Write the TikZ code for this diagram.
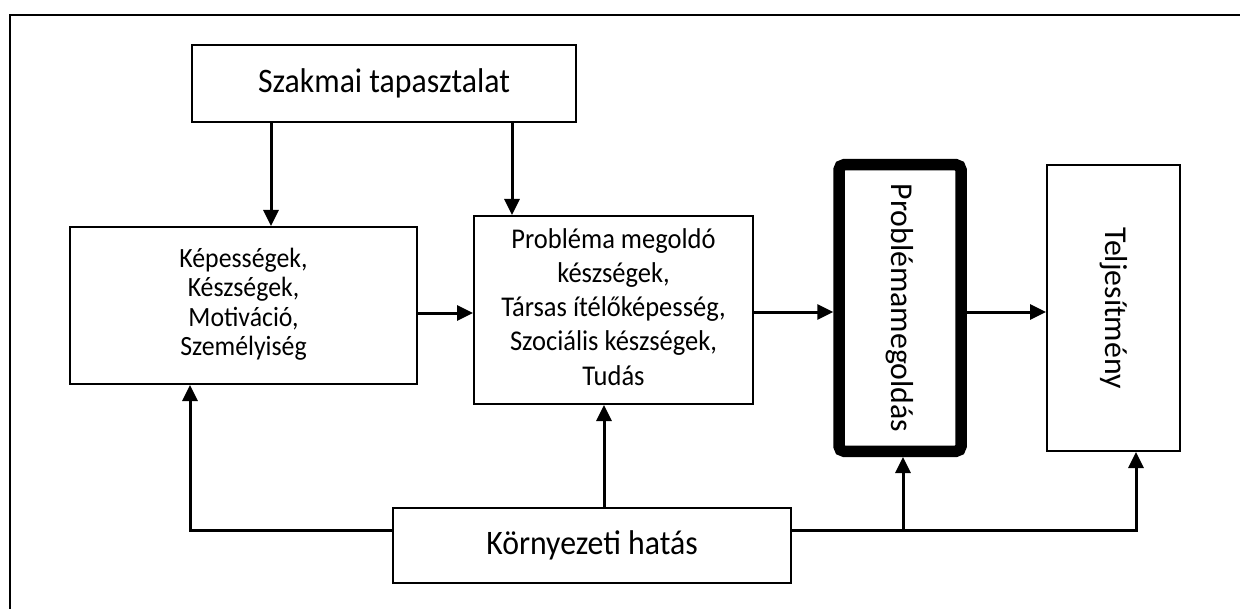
\documentclass[tikz,border=0pt]{standalone}
\usepackage{fontspec}
\setmainfont{Carlito}
\usetikzlibrary{arrows.meta}
\newcommand{\vstr}[1]{\scalebox{1}[1.08]{#1}}
\newcommand{\vlines}[1]{\vstr{\begin{tabular}{@{}c@{}}#1\end{tabular}}}
\tikzset{
  box/.style={draw, line width=1pt, fill=white, inner sep=0pt, align=center},
  bigtxt/.style={font=\fontsize{15.9}{19.2}\selectfont},
  smalltxt/.style={font=\fontsize{13.25}{15.8}\selectfont},
  keptxt/.style={font=\fontsize{12.9}{13.6}\selectfont},
  arr/.style={line width=1.5pt, -{Triangle[length=8pt,width=7.5pt]}},
  ln/.style={line width=1.5pt}
}
\begin{document}
\begin{tikzpicture}[x=0.5pt,y=-0.5pt]
\useasboundingbox (0,0) rectangle (1240,609);
% frame
\draw[line width=1pt] (10,609) -- (10,15) -- (1240,15);
% nodes
\node[box,bigtxt,minimum width=192pt,minimum height=38.5pt] (szak) at (384,83.5) {\vstr{Szakmai tapasztalat}};
\node[box,keptxt,minimum width=173.5pt,minimum height=78.5pt] (kep) at (243.5,305.5) {\vlines{Képességek,\\Készségek,\\Motiváció,\\Személyiség}};
\node[box,smalltxt,minimum width=139.5pt,minimum height=94pt] (prob) at (613.5,310) {\vlines{Probléma megoldó\\készségek,\\Társas ítélőképesség,\\Szociális készségek,\\Tudás}};
\node[box,bigtxt,line width=5.75pt,rounded corners=2.5pt,minimum width=61pt,minimum height=143.25pt] (pm) at (900,308) {\rotatebox{-90}{Problémamegoldás}};
\node[box,bigtxt,minimum width=66.5pt,minimum height=143pt] (telj) at (1113.5,308) {\rotatebox{-90}{Teljesítmény}};
\node[box,bigtxt,minimum width=199pt,minimum height=37.5pt] (env) at (592,545.5) {\vstr{Környezeti hatás}};
% helper coordinates
\coordinate (a1) at (271,0);
\coordinate (a2) at (512,0);
\coordinate (h1) at (0,313);
\coordinate (h2) at (0,312);
\coordinate (jl) at (190,530);
\coordinate (ju) at (604,0);
\coordinate (jm) at (903,530);
\coordinate (jr) at (1136,530);
% connectors
\draw[arr] (szak.south -| a1) -- (kep.north -| a1);
\draw[arr] (szak.south -| a2) -- (prob.north -| a2);
\draw[arr] (kep.east |- h1) -- (prob.west |- h1);
\draw[arr] (prob.east |- h2) -- (pm.west |- h2);
\draw[arr] (pm.east |- h2) -- (telj.west |- h2);
\draw[arr] (env.west |- jl) -- (jl) -- (kep.south -| jl);
\draw[arr] (env.north -| ju) -- (prob.south -| ju);
\draw[arr] (env.east |- jr) -- (jr) -- (telj.south -| jr);
\draw[arr] (jm) -- (pm.south -| jm);
\end{tikzpicture}
\end{document}
